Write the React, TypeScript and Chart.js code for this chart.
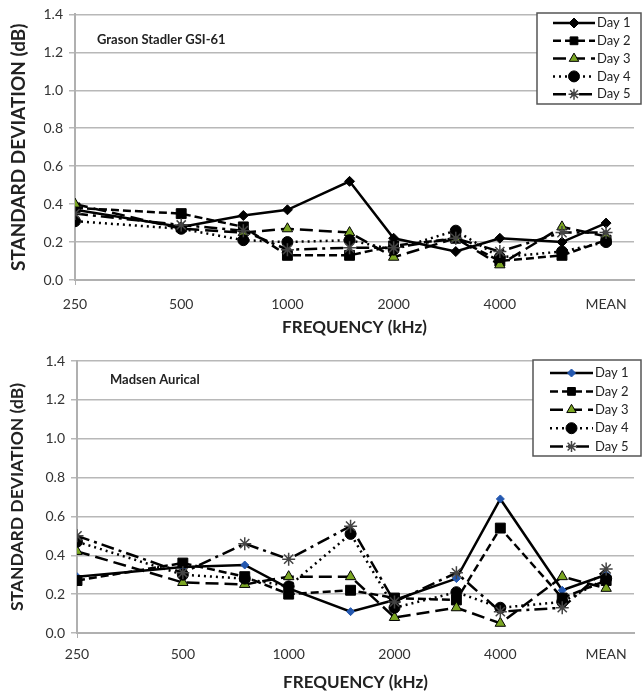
import React, { useEffect, useRef } from 'react';
import { Chart, registerables } from 'chart.js';
import { drawPoint } from 'chart.js/helpers';

Chart.register(...registerables);

// Test frequencies (Hz); the last slot is the MEAN column, placed one octave after 4000
const frequencies = [250, 500, 750, 1000, 1500, 2000, 3000, 4000, 6000, 8000];
const tickValues = [250, 500, 1000, 2000, 4000, 8000];
const tickLabels = ['250', '500', '1000', '2000', '4000', 'MEAN'];
const seriesNames = ['Day 1', 'Day 2', 'Day 3', 'Day 4', 'Day 5'];

// Grason Stadler GSI-61
const gsiDay1 = [0.37, 0.28, 0.34, 0.37, 0.52, 0.22, 0.15, 0.22, 0.2, 0.3];
const gsiDay2 = [0.38, 0.35, 0.28, 0.13, 0.13, 0.18, 0.22, 0.1, 0.13, 0.21];
const gsiDay3 = [0.4, 0.27, 0.25, 0.27, 0.25, 0.12, 0.22, 0.08, 0.28, 0.23];
const gsiDay4 = [0.31, 0.27, 0.21, 0.2, 0.21, 0.16, 0.26, 0.12, 0.15, 0.2];
const gsiDay5 = [0.35, 0.29, 0.26, 0.16, 0.17, 0.17, 0.22, 0.15, 0.25, 0.25];

// Madsen Aurical
const madDay1 = [0.29, 0.34, 0.35, 0.23, 0.11, 0.17, 0.28, 0.69, 0.22, 0.3];
const madDay2 = [0.27, 0.36, 0.29, 0.2, 0.22, 0.18, 0.17, 0.54, 0.18, 0.27];
const madDay3 = [0.42, 0.26, 0.25, 0.29, 0.29, 0.08, 0.13, 0.05, 0.29, 0.23];
const madDay4 = [0.47, 0.3, 0.28, 0.24, 0.51, 0.13, 0.21, 0.13, 0.16, 0.28];
const madDay5 = [0.5, 0.31, 0.46, 0.38, 0.55, 0.16, 0.31, 0.11, 0.13, 0.33];

const yTicks = [0, 0.2, 0.4, 0.6, 0.8, 1.0, 1.2, 1.4];

const FONT = 'Lato, "Open Sans", "DejaVu Sans", sans-serif';

type Style = {
  dash: number[];
  point: string;
  radius: number;
  fill: string;
  stroke: string;
  pbw: number;
};

function styles(day1Fill: string, day1Radius: number): Style[] {
  return [
    { dash: [], point: 'rectRot', radius: day1Radius, fill: day1Fill, stroke: day1Fill, pbw: 1 },
    { dash: [8, 4], point: 'rect', radius: 7, fill: '#000', stroke: '#000', pbw: 1 },
    { dash: [13, 6], point: 'triangle', radius: 6, fill: '#7ba623', stroke: '#000', pbw: 1 },
    { dash: [2, 4], point: 'circle', radius: 5.5, fill: '#000', stroke: '#000', pbw: 1 },
    { dash: [13, 5, 3, 5], point: 'star', radius: 6.5, fill: '#444', stroke: '#444', pbw: 1.5 },
  ];
}

const legendPlugin = {
  id: 'boxLegend',
  afterDraw(chart: any, _args: any, opts: any) {
    const { ctx } = chart;
    ctx.save();
    ctx.fillStyle = '#fff';
    ctx.fillRect(opts.x, opts.y, opts.w, opts.h);
    ctx.strokeStyle = '#555';
    ctx.lineWidth = 1.5;
    ctx.setLineDash([]);
    ctx.strokeRect(opts.x, opts.y, opts.w, opts.h);
    chart.data.datasets.forEach((ds: any, i: number) => {
      const cy = opts.y + opts.first + i * opts.row;
      ctx.save();
      ctx.setLineDash(ds.borderDash || []);
      ctx.strokeStyle = '#000';
      ctx.lineWidth = ds.borderWidth;
      ctx.beginPath();
      ctx.moveTo(opts.l0, cy);
      ctx.lineTo(opts.l1, cy);
      ctx.stroke();
      ctx.restore();
      ctx.setLineDash([]);
      ctx.fillStyle = ds.pointBackgroundColor;
      ctx.strokeStyle = ds.pointBorderColor;
      ctx.lineWidth = ds.pointBorderWidth;
      const r = Math.min(ds.pointRadius, 5.5);
      drawPoint(ctx, { pointStyle: ds.pointStyle, rotation: 0, radius: r, borderWidth: ds.pointBorderWidth } as any, (opts.l0 + opts.l1) / 2, cy);
      ctx.fillStyle = '#222';
      ctx.font = `13px ${FONT}`;
      ctx.textBaseline = 'middle';
      ctx.textAlign = 'left';
      ctx.fillText(ds.label, opts.tx, cy);
    });
    ctx.restore();
  },
};

const innerTitlePlugin = {
  id: 'innerTitle',
  afterDraw(chart: any, _args: any, opts: any) {
    const { ctx } = chart;
    ctx.save();
    ctx.fillStyle = '#222';
    ctx.font = `bold 13px ${FONT}`;
    ctx.textBaseline = 'middle';
    ctx.textAlign = 'left';
    ctx.fillText(opts.text, opts.x, opts.y);
    ctx.restore();
  },
};

type Panel = {
  title: string;
  series: number[][];
  height: number;
  padTop: number;
  axisLeft: number;
  xHeight: number;
  tickPad: number;
  titlePadBottom: number;
  yTitleSize: number;
  day1Fill: string;
  day1Radius: number;
  legend: any;
  titlePos: { x: number; y: number };
};

function buildConfig(p: Panel): any {
  const st = styles(p.day1Fill, p.day1Radius);
  const datasets = p.series.map((vals, i) => ({
    label: seriesNames[i],
    data: vals.map((v, j) => ({ x: frequencies[j], y: v })),
    borderColor: '#000',
    borderWidth: 2.5,
    borderDash: st[i].dash,
    pointStyle: st[i].point,
    pointRadius: st[i].radius,
    pointBackgroundColor: st[i].fill,
    pointBorderColor: st[i].stroke,
    pointBorderWidth: st[i].pbw,
    fill: false,
    tension: 0,
    order: 4 - i,
  }));
  return {
    type: 'line',
    data: { datasets },
    options: {
      animation: false,
      responsive: false,
      events: [],
      layout: { padding: { top: p.padTop, right: 2, left: 0, bottom: 0 } },
      plugins: {
        legend: { display: false },
        tooltip: { enabled: false },
        boxLegend: p.legend,
        innerTitle: { text: p.title, x: p.titlePos.x, y: p.titlePos.y },
      },
      scales: {
        x: {
          type: 'logarithmic',
          min: 250,
          max: 9600,
          afterBuildTicks: (scale: any) => {
            scale.ticks = tickValues.map((v) => ({ value: v }));
          },
          afterFit: (scale: any) => {
            scale.height = p.xHeight;
          },
          ticks: {
            autoSkip: false,
            maxRotation: 0,
            padding: p.tickPad,
            color: '#333',
            font: { family: FONT, size: 14 },
            callback: (v: number) => {
              const idx = tickValues.indexOf(v);
              return idx >= 0 ? tickLabels[idx] : '';
            },
          },
          grid: {
            display: true,
            drawOnChartArea: false,
            drawTicks: true,
            tickLength: 5,
            color: (ctx: any) => (ctx.index === 0 ? '#b0b0b0' : 'rgba(0,0,0,0)'),
          },
          border: { display: true, color: '#b0b0b0', width: 2 },
          title: {
            display: true,
            text: 'FREQUENCY (kHz)',
            color: '#222',
            font: { family: FONT, size: 17, weight: 'bold' },
            padding: { top: 0, bottom: p.titlePadBottom },
          },
        },
        y: {
          min: 0,
          max: 1.4,
          afterBuildTicks: (scale: any) => {
            scale.ticks = yTicks.map((v) => ({ value: v }));
          },
          afterFit: (scale: any) => {
            scale.width = p.axisLeft;
          },
          ticks: {
            padding: 6,
            color: '#333',
            font: { family: FONT, size: 14 },
            callback: (v: number) => Number(v).toFixed(1),
          },
          grid: { color: '#b8b8b8', lineWidth: 1.5, tickLength: 6 },
          border: { display: true, color: '#b0b0b0', width: 2 },
          title: {
            display: true,
            text: 'STANDARD DEVIATION (dB)',
            color: '#222',
            font: { family: FONT, size: p.yTitleSize, weight: 'bold' },
            padding: { top: 7, bottom: 0 },
          },
        },
      },
    },
    plugins: [legendPlugin, innerTitlePlugin],
  };
}

const topPanel: Panel = {
  title: 'Grason Stadler GSI-61',
  series: [gsiDay1, gsiDay2, gsiDay3, gsiDay4, gsiDay5],
  height: 340,
  padTop: 13,
  axisLeft: 75,
  xHeight: 60,
  tickPad: 11,
  titlePadBottom: 2,
  yTitleSize: 19,
  day1Fill: '#000',
  day1Radius: 5,
  legend: { x: 537, y: 13, w: 104, h: 91, first: 10, row: 17.8, l0: 553, l1: 595, tx: 597 },
  titlePos: { x: 97, y: 40 },
};

const bottomPanel: Panel = {
  title: 'Madsen Aurical',
  series: [madDay1, madDay2, madDay3, madDay4, madDay5],
  height: 356,
  padTop: 21,
  axisLeft: 77,
  xHeight: 63,
  tickPad: 8,
  titlePadBottom: 3,
  yTitleSize: 17.5,
  day1Fill: '#2458b0',
  day1Radius: 4,
  legend: { x: 533, y: 20, w: 108, h: 96, first: 13, row: 18.4, l0: 550, l1: 593, tx: 595 },
  titlePos: { x: 110, y: 40 },
};

function ChartPanel({ panel }: { panel: Panel }) {
  const ref = useRef<HTMLCanvasElement | null>(null);
  useEffect(() => {
    if (!ref.current) return;
    const chart = new Chart(ref.current, buildConfig(panel));
    return () => chart.destroy();
  }, [panel]);
  return <canvas ref={ref} width={642} height={panel.height} style={{ display: 'block', width: 642, height: panel.height }} />;
}

export default function App() {
  return (
    <div style={{ position: 'absolute', left: 0, top: 0, width: 642, height: 696, background: '#fff' }}>
      <ChartPanel panel={topPanel} />
      <ChartPanel panel={bottomPanel} />
    </div>
  );
}
